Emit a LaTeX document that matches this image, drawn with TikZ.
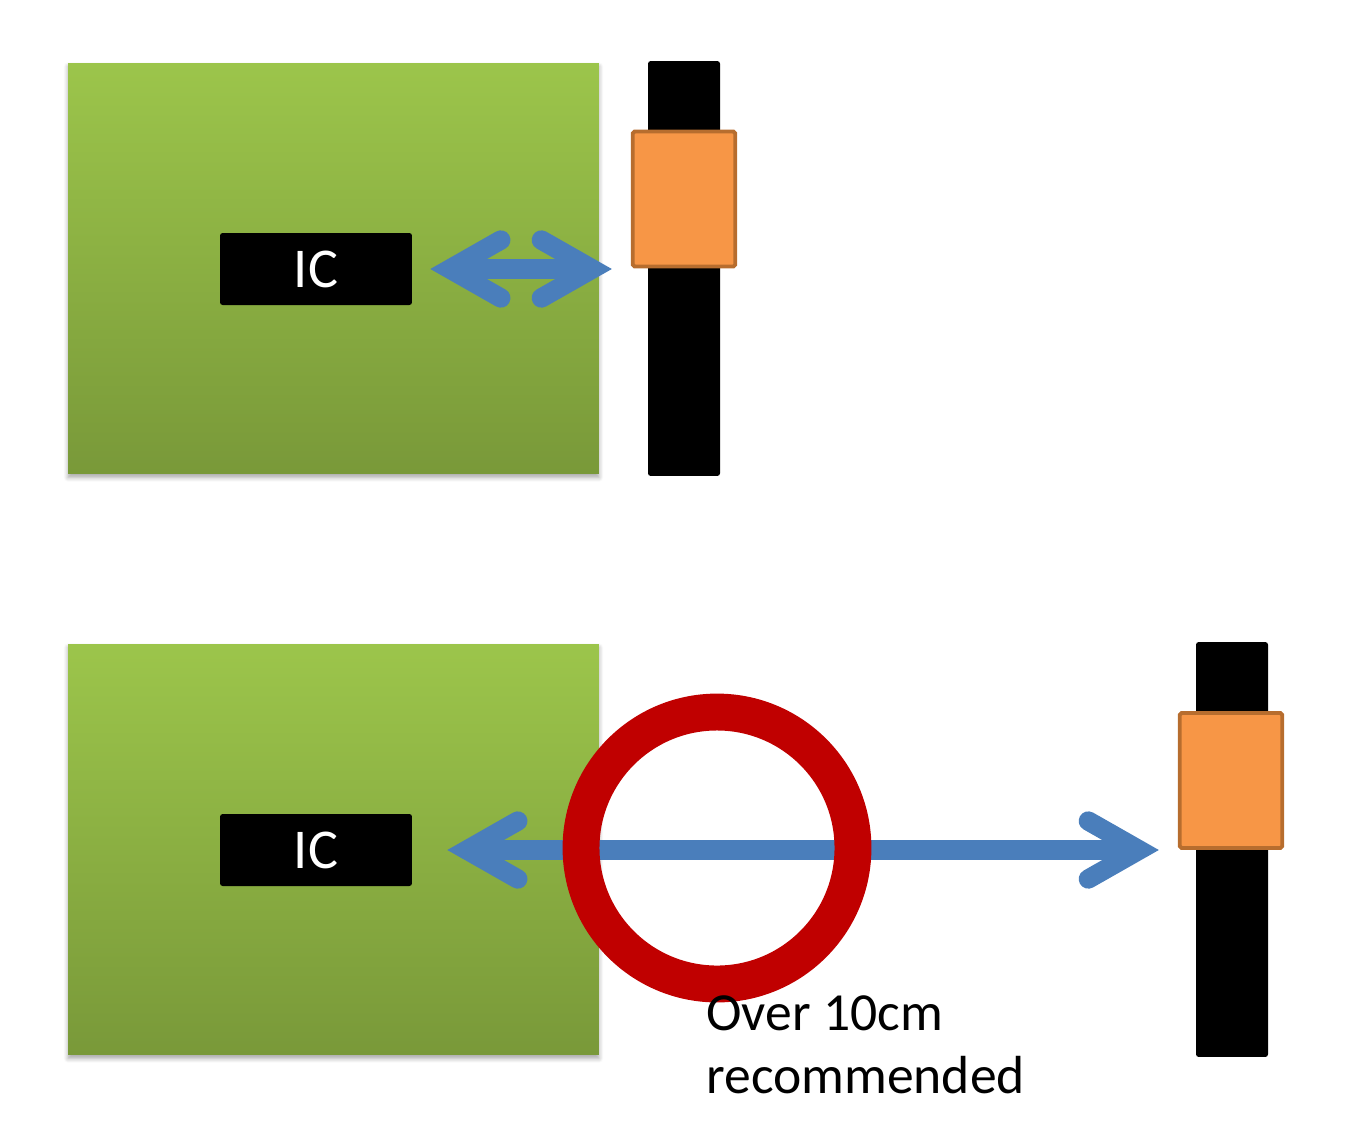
\documentclass[tikz,border=0pt]{standalone}
\usepackage{fontspec}
\setmainfont{Carlito}
\usetikzlibrary{arrows.meta,shadows.blur,positioning}
\definecolor{boardtop}{RGB}{156,197,75}
\definecolor{boardbot}{RGB}{121,153,57}
\definecolor{linkblue}{RGB}{74,126,187}
\definecolor{badgefill}{RGB}{247,150,70}
\definecolor{badgeline}{RGB}{183,109,46}
\definecolor{ringred}{RGB}{192,0,0}
\begin{document}
\begin{tikzpicture}[x=0.02cm,y=-0.02cm]
	\tikzstyle{board}=[rectangle,minimum width=10.62cm,minimum height=8.22cm,top color=boardtop,bottom color=boardbot,
		blur shadow={shadow xshift=0pt,shadow yshift=-2pt,shadow blur radius=2.5pt,shadow blur steps=6,shadow opacity=35}]
	\tikzstyle{chip}=[rectangle,fill=black,rounded corners=1.5pt,minimum width=3.84cm,minimum height=1.44cm,text=white,font=\fontsize{32}{33}\selectfont]
	\tikzstyle{strap}=[rectangle,fill=black,rounded corners=1.5pt,minimum width=1.44cm,minimum height=8.3cm]
	\tikzstyle{badge}=[rectangle,fill=badgefill,draw=badgeline,line width=2.2pt,rounded corners=1pt,minimum width=2.05cm,minimum height=2.7cm]
	\tikzstyle{link}=[draw=linkblue,line width=11pt,{Straight Barb[length=29pt,width=33pt,line cap=round,line join=miter]}-{Straight Barb[length=29pt,width=33pt,line cap=round,line join=miter]}]
	\useasboundingbox (0,0) rectangle (1359,1133);
	% near placement
	\node[board] (b1) at (333.5,268.5) {};
	\node[chip] (ic1) at (316,269) {IC};
	\node[strap] (s1) at (684,268.5) {};
	\node[badge] (w1) at (684,199) {};
	\draw[link,shorten <=0.36cm,shorten >=0.38cm] (ic1.east) -- (ic1.east -| w1.west);
	% far placement
	\node[board] (b2) at (333.5,849.5) {};
	\node[chip] (ic2) at (316,850) {IC};
	\node[strap] (s2) at (1232,849.5) {};
	\node[badge] (w2) at (1231,780.5) {};
	\draw[link,shorten <=0.7cm,shorten >=0.38cm] (ic2.east) -- (ic2.east -| w2.west);
	\node[circle,draw=ringred,line width=21pt,minimum size=5.44cm] (r) at (717,848) {};
	\node[anchor=base west,align=left,inner sep=0pt,font=\fontsize{30.5}{35.7}\selectfont] (t) at (706,1093) {Over 10cm\\recommended};
\end{tikzpicture}
\end{document}
